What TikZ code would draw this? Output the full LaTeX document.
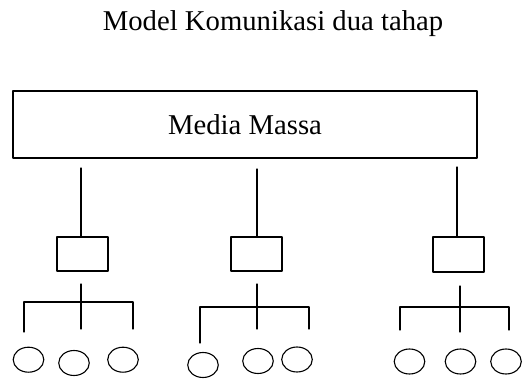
\documentclass[tikz,border=0pt]{standalone}
\usepackage{fontspec}
\setmainfont{Liberation Serif}
\usetikzlibrary{shapes.geometric}

\begin{document}
\begin{tikzpicture}[line cap=round,line join=round,x=1pt,y=-1pt,
	kotak/.style={draw,line width=1.1pt,inner sep=0pt},
	orang/.style={draw,ellipse,line width=1.1pt,inner sep=0pt,minimum width=30.6pt,minimum height=25pt},
	garis/.style={line width=1.1pt}]
		\useasboundingbox (0,0) rectangle (522,378);
		\node (judul) at (273,24) {\fontsize{28.7}{34}\selectfont Model Komunikasi dua tahap};
		\node[kotak,minimum width=464pt,minimum height=67pt] (media) at (245,124.5) {\fontsize{28.7}{34}\selectfont Media Massa};
		% pemuka pendapat
		\node[kotak,minimum width=51pt,minimum height=34pt] (p1) at (82.5,254) {};
		\node[kotak,minimum width=51pt,minimum height=34pt] (p2) at (256.5,254) {};
		\node[kotak,minimum width=51pt,minimum height=35pt] (p3) at (458.5,254.5) {};
		\coordinate (a1) at (81,168);
		\coordinate (a2) at (257,169);
		\coordinate (a3) at (457,167);
		\draw [garis] (a1)-- (a1 |- p1.north);
		\draw [garis] (a2)-- (a2 |- p2.north);
		\draw [garis] (a3)-- (a3 |- p3.north);
		% khalayak
		\node[orang] (k11) at (28.5,359.7) {};
		\node[orang] (k12) at (74,363) {};
		\node[orang] (k13) at (123,359.7) {};
		\node[orang] (k21) at (203,365) {};
		\node[orang] (k22) at (258,361) {};
		\node[orang] (k23) at (297,359.5) {};
		\node[orang] (k31) at (409.5,361.5) {};
		\node[orang] (k32) at (460.5,361.5) {};
		\node[orang] (k33) at (506,361.5) {};
		% cabang 1
		\coordinate (b1) at (81,284);
		\coordinate (c1) at (81,302);
		\draw [garis] (b1)-- (81,329);
		\draw [garis] (24,332)-- (24,302)-- (133,302)-- (133,329);
		% cabang 2
		\coordinate (b2) at (257,284);
		\draw [garis] (b2)-- (257,329);
		\draw [garis] (200,343)-- (200,307)-- (309,307)-- (309,329);
		% cabang 3
		\coordinate (b3) at (460,286);
		\draw [garis] (b3)-- (460,332);
		\draw [garis] (400,330)-- (400,307)-- (509,307)-- (509,330);
	\end{tikzpicture}
\end{document}
